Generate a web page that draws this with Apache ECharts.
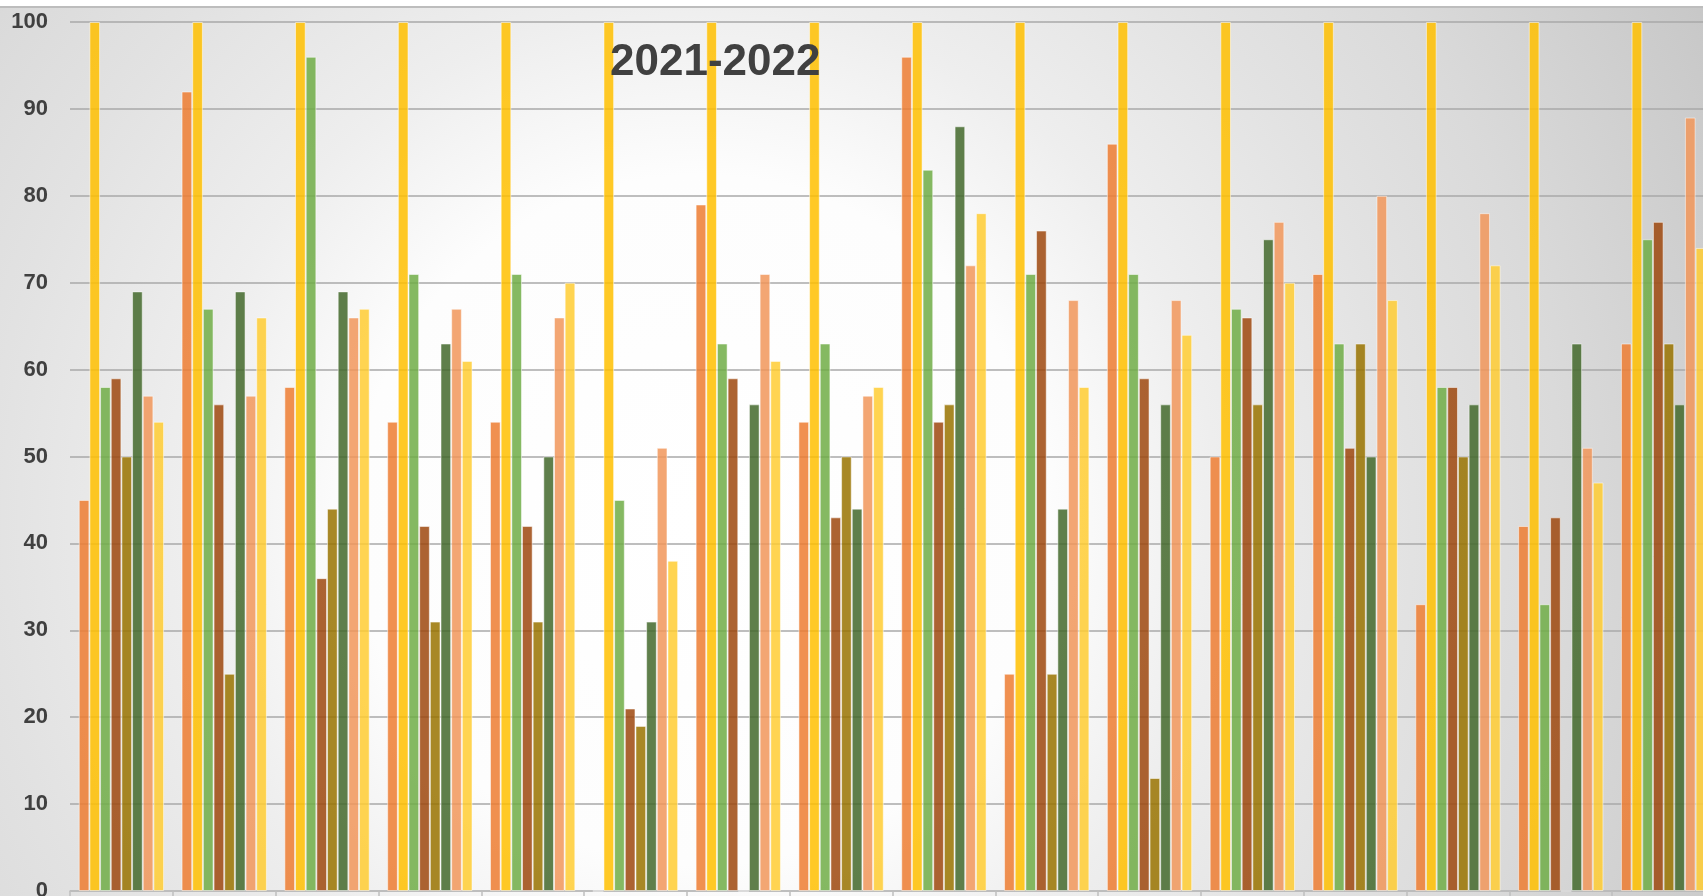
<!DOCTYPE html>
<html>
<head>
<meta charset="utf-8">
<title>2021-2022</title>
<script src="https://cdn.jsdelivr.net/npm/echarts@6/dist/echarts.min.js"></script>
<style>
  html, body { margin: 0; padding: 0; background: #fff; }
  #main { width: 1703px; height: 896px; }
</style>
</head>
<body>
<div id="main"></div>
<script>
// groups along the x axis (their labels are cut off in the picture)
const categories = ['1', '2', '3', '4', '5', '6', '7', '8', '9', '10', '11', '12', '13', '14', '15', '16'];
const yTicks = [0, 10, 20, 30, 40, 50, 60, 70, 80, 90, 100];

// one array per bar colour
const orange     = [45, 92, 58, 54, 54, 0, 79, 54, 96, 25, 86, 50, 71, 33, 42, 63];
const gold       = [100, 100, 100, 100, 100, 100, 100, 100, 100, 100, 100, 100, 100, 100, 100, 100];
const lightGreen = [58, 67, 96, 71, 71, 45, 63, 63, 83, 71, 71, 67, 63, 58, 33, 75];
const brown      = [59, 56, 36, 42, 42, 21, 59, 43, 54, 76, 59, 66, 51, 58, 43, 77];
const olive      = [50, 25, 44, 31, 31, 19, 0, 50, 56, 25, 13, 56, 63, 50, 0, 63];
const darkGreen  = [69, 69, 69, 63, 50, 31, 56, 44, 88, 44, 56, 75, 50, 56, 63, 56];
const salmon     = [57, 57, 66, 67, 66, 51, 71, 57, 72, 68, 68, 77, 80, 78, 51, 89];
const paleYellow = [54, 66, 67, 61, 70, 38, 61, 58, 78, 58, 64, 70, 68, 72, 47, 74];

const seriesList = [
  { name: 'orange', data: orange, color: '#ED7D31' },
  { name: 'gold', data: gold, color: '#FFC000' },
  { name: 'lightGreen', data: lightGreen, color: '#70AD47' },
  { name: 'brown', data: brown, color: '#9E480E' },
  { name: 'olive', data: olive, color: '#997300' },
  { name: 'darkGreen', data: darkGreen, color: '#43682B' },
  { name: 'salmon', data: salmon, color: '#F1975A' },
  { name: 'paleYellow', data: paleYellow, color: '#FFCD33' }
];

var chart = echarts.init(document.getElementById('main'), null, { renderer: 'canvas' });

var option = {
  animation: false,
  title: {
    text: '2021-2022',
    left: 610,
    top: 41,
    padding: 0,
    textStyle: {
      fontFamily: 'Liberation Sans',
      fontWeight: 'bold',
      fontSize: 44,
      color: '#404040'
    }
  },
  // chart area fill: radial grey to white, with a border line on top
  graphic: {
    elements: [
      {
        type: 'rect',
        silent: true,
        z: -10,
        shape: { x: 0, y: 7, width: 1703, height: 889 },
        style: {
          fill: new echarts.graphic.RadialGradient(700, 520, 1150, [
            { offset: 0, color: '#ffffff' },
            { offset: 0.3, color: '#fdfdfd' },
            { offset: 0.45, color: '#eeeeee' },
            { offset: 0.62, color: '#e2e2e2' },
            { offset: 0.75, color: '#dadada' },
            { offset: 1, color: '#c6c6c6' }
          ], true)
        }
      },
      {
        type: 'line',
        silent: true,
        z: -9,
        shape: { x1: 0, y1: 7, x2: 1703, y2: 7 },
        style: { stroke: '#bdbdbd', lineWidth: 2 }
      }
    ]
  },
  grid: {
    left: 70,
    top: 22,
    width: 1645,   // last group runs past the right edge, like the picture
    height: 869,
    outerBoundsMode: 'none'
  },
  xAxis: {
    type: 'category',
    data: categories,
    axisLine: { show: true, lineStyle: { color: '#bfbfbf', width: 1.5 } },
    axisTick: { show: true, length: 6, lineStyle: { color: '#bfbfbf', width: 1.5 } },
    axisLabel: { show: false }
  },
  yAxis: {
    type: 'value',
    min: yTicks[0],
    max: yTicks[yTicks.length - 1],
    interval: 10,
    axisLine: { show: false },
    axisTick: { show: false },
    axisLabel: {
      margin: 22,
      fontFamily: 'Liberation Sans',
      fontWeight: 'bold',
      fontSize: 22,
      color: '#404040'
    },
    splitLine: { lineStyle: { color: '#a8a8a8', width: 1.5 } }
  },
  series: seriesList.map(function (s) {
    return {
      name: s.name,
      type: 'bar',
      data: s.data,
      barGap: '0%',
      barCategoryGap: '17%',
      itemStyle: {
        color: s.color,
        opacity: 0.85,
        borderColor: 'rgba(255,255,255,0.6)',
        borderWidth: 1
      }
    };
  })
};

chart.setOption(option);
</script>
</body>
</html>
